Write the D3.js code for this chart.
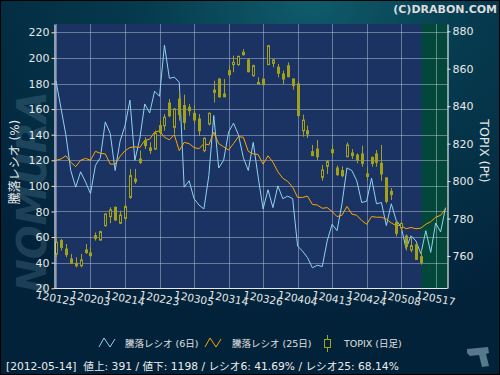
<!DOCTYPE html>
<html>
<head>
<meta charset="utf-8">
<script src="https://cdn.jsdelivr.net/npm/d3@7"></script>
<style>
body { margin: 0; background: #02223a; }
</style>
</head>
<body>
<script>
// size of the picture and of the plot box
var width = 500, height = 375;
var padL = 54.5, padR = 447.5, padT = 24, padB = 288;
var font = '"DejaVu Sans", "Noto Sans CJK JP", sans-serif';

// 騰落レシオ 6日 / 25日 (one value per trading day, starts 2012-01-25)
var ratio6 = [182, 161, 140, 112, 99, 111, 103, 94, 116, 122, 150, 141, 112, 135, 147, 167,
	120, 137, 164, 157, 174, 170, 210, 184, 185, 181, 99, 104, 90, 85, 82, 108,
	155, 114, 120, 142, 149, 140, 122, 112, 134, 107, 82, 97, 83, 100, 90, 92,
	90, 53, 49, 44, 36, 38, 37, 57, 70, 65, 86, 114, 112, 104, 87,
	88, 106, 86, 87, 69, 86, 73, 68, 51, 61, 57, 47, 65, 48, 71, 64, 83];
var ratio25 = [120, 121, 123.5, 118.5, 115, 120, 121.5, 120, 127, 125.5, 125, 117, 117, 123, 127.5, 130,
	130.5, 130, 135.5, 136.5, 142, 143, 138, 136, 140, 127.5, 134, 133, 130, 129, 133, 132,
	142, 133, 130.5, 128, 133, 138.5, 138, 127, 125, 124.5, 117, 123.5, 118.5, 111, 106, 103.5,
	99, 91, 91, 92, 85.5, 85, 82.5, 83, 80, 76, 77, 84, 78, 77, 73,
	70, 76, 75.5, 75.5, 74, 71, 69, 69, 66.5, 67.5, 66.5, 67, 70, 72, 75.5, 77, 82];

// TOPIX daily candles (open / high / low / close)
var tpxOpen = [761.1, 768.2, 763.7, 758.4, 756.1, 754.8, 763.2, 761.6, 770.9, 768.5, 776.2, 781.0, 786.0, 777.5, 780.1, 791.3,
	801.1, 811.8, 821.6, 817.7, 817.1, 829.6, 829.6, 841.7, 828.7, 843.8, 840.3, 839.4, 836.2, 833.2, 816.3, 830.5,
	847.4, 854.5, 846.5, 859.0, 862.2, 862.2, 868.8, 864.7, 856.3, 852.7, 854.5, 862.2, 862.9, 860.8, 857.2, 861.6,
	854.5, 851.9, 826.9, 826.9, 815.7, 817.1, 802.0, 807.9, 816.8, 807.0, 805.6, 813.0, 815.0, 813.9, 814.5,
	803.8, 812.7, 814.5, 809.5, 801.7, 794.5, 778.0, 774.9, 770.7, 763.2, 766.0, 759.6];
var tpxHigh = [770.0, 769.1, 766.4, 761.1, 759.3, 761.1, 766.4, 764.6, 772.6, 773.5, 782.8, 786.0, 786.4, 784.2, 787.8, 806.5,
	806.5, 816.3, 823.4, 820.7, 827.0, 832.3, 835.8, 843.8, 839.0, 848.3, 846.2, 841.2, 840.6, 835.8, 823.4, 836.7,
	853.6, 854.9, 854.5, 861.6, 867.0, 867.0, 870.5, 865.7, 862.2, 855.4, 854.5, 872.7, 865.2, 862.5, 859.0, 863.4,
	854.9, 853.3, 835.5, 829.6, 819.3, 822.0, 808.6, 811.3, 819.3, 808.3, 807.9, 820.7, 817.1, 814.8, 818.9,
	807.4, 813.0, 816.6, 819.3, 802.0, 796.3, 778.5, 777.9, 771.4, 770.0, 766.4, 763.2];
var tpxLow = [759.3, 762.9, 759.3, 755.7, 753.9, 753.9, 761.1, 759.3, 768.2, 768.2, 775.7, 777.5, 778.9, 777.1, 778.9, 790.5,
	798.5, 809.1, 817.1, 814.5, 816.6, 823.7, 826.9, 834.1, 825.2, 832.3, 827.3, 834.9, 830.5, 824.1, 815.4, 829.7,
	842.0, 844.6, 845.0, 855.4, 858.1, 861.6, 867.0, 858.1, 855.8, 851.9, 851.5, 862.2, 860.8, 855.4, 851.5, 855.4,
	848.8, 834.4, 823.7, 823.0, 813.6, 811.3, 800.2, 803.8, 813.0, 802.9, 802.0, 813.0, 811.8, 809.5, 807.7,
	800.5, 807.7, 807.7, 800.2, 788.1, 789.9, 770.4, 772.6, 762.9, 762.0, 758.0, 755.4];
var tpxClose = [767.3, 764.6, 760.7, 756.1, 754.8, 757.9, 761.8, 760.2, 769.4, 773.0, 782.4, 784.6, 779.2, 781.9, 786.4, 802.9,
	799.7, 810.0, 818.9, 816.3, 825.5, 826.0, 834.1, 834.9, 838.5, 835.5, 831.4, 837.6, 832.6, 826.9, 822.8, 836.2,
	848.6, 845.0, 845.0, 856.8, 863.4, 866.6, 867.5, 858.4, 861.6, 851.9, 851.5, 872.3, 864.7, 857.6, 854.5, 855.8,
	851.0, 835.0, 832.6, 825.2, 813.6, 813.0, 805.9, 810.4, 815.2, 803.4, 802.9, 819.3, 813.6, 811.3, 809.5,
	802.5, 809.5, 810.0, 803.8, 789.2, 792.8, 772.1, 777.4, 765.0, 765.5, 758.2, 756.6];

// date labels, one every 7 trading days
var tickIdx = [0, 7, 14, 21, 28, 35, 42, 49, 56, 63, 70, 77];
var tickLabels = ['120125', '120203', '120214', '120223', '120305', '120314', '120326', '120404', '120413', '120424', '120508', '120517'];
var leftTicks = [20, 40, 60, 80, 100, 120, 140, 160, 180, 200, 220];
var rightTicks = [760, 780, 800, 820, 840, 860, 880];
var lastDay = 74; // 2012-05-14, start of the green band

var legendNames = ['騰落レシオ (6日)', '騰落レシオ (25日)', 'TOPIX (日足)'];
var statusText = '[2012-05-14]  値上: 391 / 値下: 1198 / レシオ6: 41.69% / レシオ25: 68.14%';

var blue = '#8fd2f2', orange = '#ffa500', olive = '#a3a11c';

var x = d3.scaleLinear().domain([-0.3, 79.4]).range([padL, padR]);
var yL = d3.scaleLinear().domain([20.2, 226.5]).range([padB, padT]);
var yR = d3.scaleLinear().domain([742.9, 883.9]).range([padB, padT]);

var svg = d3.select('body').append('svg').attr('width', width).attr('height', height)
	.attr('font-family', font);

// background
var defs = svg.append('defs');
var bg = defs.append('radialGradient').attr('id', 'bg').attr('cx', '62%').attr('cy', '0%').attr('r', '85%');
bg.append('stop').attr('offset', '0%').attr('stop-color', '#0f5c6c');
bg.append('stop').attr('offset', '40%').attr('stop-color', '#063a4e');
bg.append('stop').attr('offset', '100%').attr('stop-color', '#02223a');
svg.append('rect').attr('width', width).attr('height', height).attr('fill', 'url(#bg)');

// watermark in the left margin
svg.append('text').attr('transform', 'translate(46,192) rotate(-90)')
	.attr('text-anchor', 'middle').attr('font-size', 40).attr('font-weight', 'bold')
	.attr('font-style', 'italic').attr('fill', '#6b97aa').attr('opacity', 0.25)
	.attr('font-family', '"DejaVu Sans"').text('NOMURA');

svg.append('text').attr('x', 497).attr('y', 12.5).attr('text-anchor', 'end')
	.attr('font-size', 11).attr('font-weight', 'bold').attr('fill', '#dcdcdc')
	.text('(C)DRABON.COM');

// plot box and green band
svg.append('rect').attr('x', padL).attr('y', padT).attr('width', padR - padL).attr('height', padB - padT)
	.attr('fill', '#1b3362');
svg.append('rect').attr('x', x(lastDay) + 0.5).attr('y', padT).attr('width', padR - x(lastDay) - 0.5)
	.attr('height', padB - padT).attr('fill', '#03473a');

// grid
var grid = svg.append('g').attr('stroke', 'rgba(200,210,230,0.45)').attr('stroke-width', 1);
grid.selectAll('.h').data(leftTicks).enter().append('line')
	.attr('x1', padL).attr('x2', padR)
	.attr('y1', d => Math.round(yL(d)) + 0.5).attr('y2', d => Math.round(yL(d)) + 0.5);
grid.selectAll('.v').data(tickIdx).enter().append('line')
	.attr('y1', padT).attr('y2', padB)
	.attr('x1', d => Math.round(x(d)) + 0.5).attr('x2', d => Math.round(x(d)) + 0.5);

// ratio lines
var ratioLine = d3.line().x((d, i) => x(i)).y(d => yL(d));
svg.append('path').datum(ratio6).attr('d', ratioLine).attr('fill', 'none')
	.attr('stroke', blue).attr('stroke-width', 1);
svg.append('path').datum(ratio25).attr('d', ratioLine).attr('fill', 'none')
	.attr('stroke', orange).attr('stroke-width', 1);

// candles, 3px bodies
var candles = svg.append('g').selectAll('g').data(tpxOpen).enter().append('g');
candles.append('line')
	.attr('x1', (d, i) => Math.round(x(i)) + 0.5).attr('x2', (d, i) => Math.round(x(i)) + 0.5)
	.attr('y1', (d, i) => yR(tpxHigh[i])).attr('y2', (d, i) => yR(tpxLow[i]))
	.attr('stroke', olive).attr('stroke-width', 1);
candles.append('rect')
	.attr('x', (d, i) => Math.round(x(i)) - 0.5)
	.attr('width', 2)
	.attr('y', (d, i) => yR(Math.max(d, tpxClose[i])))
	.attr('height', (d, i) => Math.max(1, yR(Math.min(d, tpxClose[i])) - yR(Math.max(d, tpxClose[i]))))
	.attr('fill', (d, i) => tpxClose[i] > d ? '#1b3362' : olive)
	.attr('stroke', olive).attr('stroke-width', 1);

// axes
var axL = svg.append('g').attr('transform', 'translate(' + padL + ',0)')
	.call(d3.axisLeft(yL).tickValues(leftTicks).tickSize(3).tickSizeOuter(0).tickPadding(2));
var axR = svg.append('g').attr('transform', 'translate(' + padR + ',0)')
	.call(d3.axisRight(yR).tickValues(rightTicks).tickSize(3).tickSizeOuter(0).tickPadding(2));
[axL, axR].forEach(function (g) {
	g.attr('color', '#e8e8e8').attr('font-size', 11).attr('font-family', font);
	g.select('.domain').attr('stroke-width', 1.2);
});
svg.append('line').attr('x1', padL).attr('x2', padR).attr('y1', padB + 0.5).attr('y2', padB + 0.5)
	.attr('stroke', '#e8e8e8').attr('stroke-width', 1.2);

svg.selectAll('.xlab').data(tickLabels).enter().append('text')
	.attr('transform', (d, i) => 'translate(' + x(tickIdx[i]) + ',298) rotate(11)')
	.attr('text-anchor', 'middle').attr('dominant-baseline', 'central')
	.attr('font-size', 10.5).attr('fill', '#e8e8e8').text(d => d);

// axis titles
svg.append('text').attr('transform', 'translate(14.5,162) rotate(-90)')
	.attr('text-anchor', 'middle').attr('dominant-baseline', 'central')
	.attr('font-size', 12).attr('fill', '#e8e8e8').text('騰落レシオ (%)');
svg.append('text').attr('transform', 'translate(484,151) rotate(90)')
	.attr('text-anchor', 'middle').attr('dominant-baseline', 'central')
	.attr('font-size', 12.5).attr('fill', '#e8e8e8').text('TOPIX (Pt)');

// legend
var lg = svg.append('g').attr('fill', 'none').attr('stroke-width', 1);
lg.append('path').attr('d', 'M99,347L104,338L110,347L115,339').attr('stroke', blue);
lg.append('path').attr('d', 'M205,347L210,338L216,347L221,339').attr('stroke', orange);
lg.append('line').attr('x1', 327.5).attr('x2', 327.5).attr('y1', 335).attr('y2', 352).attr('stroke', olive);
lg.append('rect').attr('x', 324.5).attr('y', 339.5).attr('width', 6).attr('height', 8)
	.attr('fill', '#02233a').attr('stroke', olive);
var legendX = [125, 232, 344];
svg.selectAll('.lgt').data(legendNames).enter().append('text')
	.attr('x', (d, i) => legendX[i]).attr('y', 347)
	.attr('font-size', 9.5).attr('fill', '#e0e0e0').text(d => d);

svg.append('text').attr('x', 6).attr('y', 370).attr('font-size', 10.7).attr('fill', '#ececec')
	.style('white-space', 'pre').text(statusText);

// little mark at the bottom right
svg.append('path').attr('d', 'M467,349L488,347L489,353L486,354L489,366L482,367L479,355L470,356L467,353Z')
	.attr('fill', '#557a8c');

svg.append('rect').attr('x', 0.5).attr('y', 0.5).attr('width', width - 1).attr('height', height - 1)
	.attr('fill', 'none').attr('stroke', '#000');
</script>
</body>
</html>
